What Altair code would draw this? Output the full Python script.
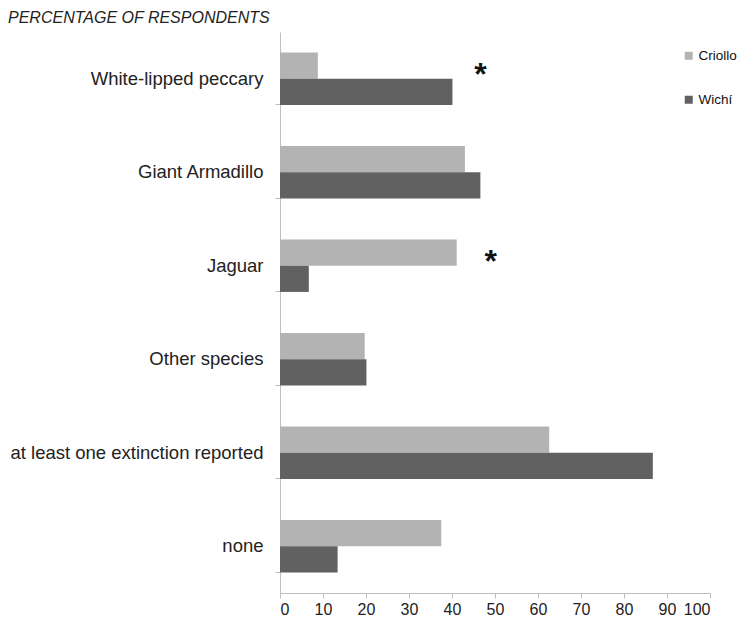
import altair as alt
import pandas as pd

categories = ["White-lipped peccary", "Giant Armadillo", "Jaguar", "Other species",
              "at least one extinction reported", "none"]
criollo = [8.8, 43.0, 41.1, 19.7, 62.6, 37.5]
wichi = [40.1, 46.6, 6.7, 20.1, 86.7, 13.4]
groups = ["Criollo", "Wichí"]
colors = ["#b3b3b3", "#616161"]
x_ticks = [0, 10, 20, 30, 40, 50, 60, 70, 80, 90, 100]

sig_categories = ["White-lipped peccary", "Jaguar"]
sig_x = [46.6, 49.0]

rows = []
for c, a, b in zip(categories, criollo, wichi):
    rows.append({"cat": c, "group": "Criollo", "value": a})
    rows.append({"cat": c, "group": "Wichí", "value": b})
df = pd.DataFrame(rows)
sig = pd.DataFrame({"cat": sig_categories, "x": sig_x, "t": ["*"] * len(sig_x)})

font = "Liberation Sans"

y_enc = alt.Y("cat:N", sort=categories,
              scale=alt.Scale(paddingInner=0.44, paddingOuter=0.22),
              axis=alt.Axis(title=None, domainColor="#bfbfbf", tickColor="#bfbfbf",
                            tickSize=5, bandPosition=1, labelFont=font, labelFontSize=18.5,
                            labelColor="#222222", labelPadding=12, labelLimit=300))

bars = alt.Chart(df).mark_bar().encode(
    y=y_enc,
    yOffset=alt.YOffset("group:N", sort=groups, scale=alt.Scale(paddingInner=0, paddingOuter=0)),
    x=alt.X("value:Q", scale=alt.Scale(domain=[0, 100], nice=False),
            axis=alt.Axis(title=None, values=x_ticks, grid=False, domainColor="#bfbfbf",
                          tickColor="#bfbfbf", tickSize=5, labelFont=font, labelFontSize=16,
                          labelColor="#222222", labelPadding=3)),
    color=alt.Color("group:N", sort=groups,
                    scale=alt.Scale(domain=groups, range=colors),
                    legend=alt.Legend(title=None, orient="none", legendX=402, legendY=17,
                                      padding=0,
                                      symbolType="square", symbolSize=64, symbolStrokeWidth=0,
                                      labelFont=font, labelFontSize=13.5, labelColor="#111111",
                                      rowPadding=29, labelOffset=3)),
)

stars = alt.Chart(sig).mark_text(fontSize=32, fontWeight="bold", color="#111111",
                                 baseline="middle", dy=-4).encode(
    y=alt.Y("cat:N", sort=categories),
    x=alt.X("x:Q"),
    text="t:N",
)

chart = alt.layer(bars, stars).properties(
    width=430, height=561,
    autosize=alt.AutoSizeParams(type="none"),
    padding={"left": 272, "top": 24, "right": 27, "bottom": 26},
    title=alt.TitleParams("PERCENTAGE OF RESPONDENTS", anchor="start", frame="group",
                          dx=-272, font=font, fontSize=16,
                          fontStyle="italic", fontWeight="normal",
                          color="#222222", offset=6),
).configure_view(stroke=None)

chart.save("out.html", embed_options={"renderer": "svg", "actions": False})
